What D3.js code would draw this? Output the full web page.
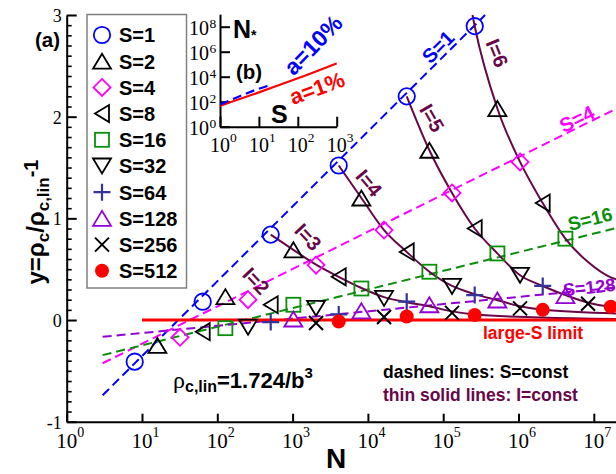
<!DOCTYPE html>
<html>
<head>
<meta charset="utf-8">
<script src="https://cdn.jsdelivr.net/npm/d3@7/dist/d3.min.js"></script>
<style>
html,body{margin:0;padding:0;background:#fff;}
svg{display:block;}
</style>
</head>
<body>
<svg id="chart" width="616" height="474"></svg>
<script>
// ================= DATA =================
const seriesNames = ["S=1","S=2","S=4","S=8","S=16","S=32","S=64","S=128","S=256","S=512"];

const nS1   = [8,64,512,4096,32768,262144];
const yS1   = [-0.41,0.18,0.84,1.52,2.20,2.89];
const nS2   = [16,128,1024,8192,65536,524288];
const yS2   = [-0.25,0.23,0.69,1.20,1.67,2.08];
const nS4   = [32,256,2048,16384,131072,1048576];
const yS4   = [-0.17,0.20,0.54,0.885,1.25,1.555];
const nS8   = [64,512,4096,32768,262144,2097152];
const yS8   = [-0.115,0.15,0.425,0.67,0.90,1.15];
const nS16  = [128,1024,8192,65536,524288,4194304];
const yS16  = [-0.08,0.15,0.31,0.475,0.655,0.80];
const nS32  = [256,2048,16384,131072,1048576];
const yS32  = [-0.07,0.115,0.213,0.33,0.44];
const nS64  = [512,4096,32768,262144,2097152];
const yS64  = [-0.02,0.055,0.18,0.245,0.335];
const nS128 = [1024,8192,65536,524288,4194304];
const yS128 = [0.01,0.09,0.15,0.197,0.24];
const nS256 = [2048,16384,131072,1048576,8388608];
const yS256 = [-0.03,0.03,0.07,0.115,0.16];
const nS512 = [4096,32768,262144,2097152,16777216];
const yS512 = [-0.015,0.035,0.05,0.10,0.13];

// thin solid lines: I = const
const nI3 = [512,1024,2048,4096,8192,16384,32768,65536,131072,262144,2e6,2e7];
const yI3 = [0.84,0.69,0.545,0.425,0.315,0.225,0.175,0.135,0.085,0.055,0.025,0.01];
const nI4 = [4096,8192,16384,32768,65536,131072,262144,524288,1048576,2097152,2e7];
const yI4 = [1.52,1.20,0.885,0.67,0.475,0.335,0.255,0.195,0.135,0.10,0.065];
const nI5 = [32768,65536,131072,262144,524288,1048576,2097152,4194304,8388608,16777216,2e7];
const yI5 = [2.20,1.67,1.25,0.90,0.655,0.44,0.335,0.245,0.17,0.13,0.125];
const nI6 = [245000,262144,524288,1048576,2097152,4194304,8388608,16777216,2e7];
const yI6 = [3.0,2.89,2.08,1.555,1.15,0.80,0.57,0.42,0.40];

// dashed lines: S = const
const nDashS1   = [3,3.6e5];  const yDashS1   = [-0.74,3.0];
const nDashS4   = [3,2e7];    const yDashS4   = [-0.425,2.08];
const nDashS16  = [3,2e7];    const yDashS16  = [-0.345,0.905];
const nDashS128 = [3,2e7];    const yDashS128 = [-0.165,0.32];
// large-S limit
const nLarge = [10,2e7];      const yLarge = [0,0];

// inset (b): N* vs S
const sInsetRed  = [1,10,100,1000];
const nStarRed   = [46,560,7400,117000];
const sInsetBlue = [1,3,8,20];
const nStarBlue  = [60,251,851,2188];

// ticks
const xTickValues = [1,10,100,1e3,1e4,1e5,1e6,1e7];
const xTickExps   = ["0","1","2","3","4","5","6","7"];
const yTickValues = [-1,0,1,2,3];
const yTickLabels = ["-1","0","1","2","3"];
const inXTicks = [1,10,100,1000];     const inXExps = ["0","1","2","3"];
const inYTicks = [1,1e2,1e4,1e6,1e8]; const inYExps = ["0","2","4","6","8"];

// ================= STYLE =================
const SANS = "'Liberation Sans', Arial, Helvetica, sans-serif";
const SERIF = "'Liberation Serif', 'Times New Roman', serif";
const C = {blue:"#0000ff", mag:"#ff00ff", green:"#0a8f0a", navy:"#33339a",
           violet:"#9400d3", red:"#ff0000", maroon:"#670748", black:"#000"};

const series = [
  {n:nS1,  y:yS1,  m:"circle", c:C.blue},
  {n:nS2,  y:yS2,  m:"triUp",  c:C.black},
  {n:nS4,  y:yS4,  m:"diamond",c:C.mag},
  {n:nS8,  y:yS8,  m:"triLeft",c:C.black},
  {n:nS16, y:yS16, m:"square", c:C.green},
  {n:nS32, y:yS32, m:"triDown",c:C.black},
  {n:nS64, y:yS64, m:"plus",   c:C.navy},
  {n:nS128,y:yS128,m:"triUp",  c:C.violet},
  {n:nS256,y:yS256,m:"cross",  c:C.black},
  {n:nS512,y:yS512,m:"dot",    c:C.red}
];

// ================= SCALES =================
const svg = d3.select("#chart");
const x = d3.scaleLog().domain([1,1e8]).range([66.7, 669.1]);
const y = d3.scaleLinear().domain([-1,3]).range([421.7, 15]);

// ================= AXES =================
const gy = svg.append("g").attr("transform","translate(66.7,0)")
  .call(d3.axisLeft(y).tickValues(yTickValues).tickSize(-10).tickSizeOuter(0).tickPadding(5)
        .tickFormat((d,i)=>yTickLabels[i]));
gy.selectAll("path.domain").attr("stroke","#000").attr("stroke-width",2);
gy.selectAll(".tick line").attr("stroke","#000").attr("stroke-width",2);
gy.selectAll(".tick text").attr("font-family",SERIF).attr("font-size",18).attr("fill","#000").attr("dy","0.36em");
const minorVals = d3.range(-10,31).map(v=>v/10).filter(v=>Math.abs(v-Math.round(v))>1e-6);
const gym = svg.append("g").attr("transform","translate(66.7,0)")
  .call(d3.axisLeft(y).tickValues(minorVals).tickSize(-5).tickSizeOuter(0).tickFormat(""));
gym.select("path.domain").remove();
gym.selectAll(".tick line").attr("stroke","#000").attr("stroke-width",1.6);

const gx = svg.append("g").attr("transform","translate(0,421.7)")
  .call(d3.axisBottom(x).tickValues(xTickValues).tickSize(-8).tickSizeOuter(0).tickFormat(""));
gx.selectAll("path.domain").attr("stroke","#000").attr("stroke-width",2);
gx.selectAll(".tick line").attr("stroke","#000").attr("stroke-width",2);
xTickValues.forEach((v,i)=>{
  svg.append("text").attr("x",x(v)).attr("y",447.5).attr("text-anchor","middle")
    .attr("font-family",SERIF).attr("font-size",21).text("10");
  svg.append("text").attr("x",x(v)+10.5).attr("y",437).attr("text-anchor","start")
    .attr("font-family",SERIF).attr("font-size",14).text(xTickExps[i]);
});

// ================= LINES =================
const lineGen = d3.line().x(d=>x(d[0])).y(d=>y(d[1]));
const curveGen = d3.line().x(d=>x(d[0])).y(d=>y(d[1])).curve(d3.curveMonotoneX);
const zip = (a,b)=>a.map((v,i)=>[v,b[i]]);

const dashed = [
  {n:nDashS1,y:yDashS1,c:C.blue},
  {n:nDashS4,y:yDashS4,c:C.mag},
  {n:nDashS16,y:yDashS16,c:C.green},
  {n:nDashS128,y:yDashS128,c:C.violet}
];
dashed.forEach(d=>{
  svg.append("path").attr("d",lineGen(zip(d.n,d.y))).attr("fill","none")
    .attr("stroke",d.c).attr("stroke-width",2).attr("stroke-dasharray","9,5");
});

[[nI3,yI3],[nI4,yI4],[nI5,yI5],[nI6,yI6]].forEach(([n,v])=>{
  svg.append("path").attr("d",curveGen(zip(n,v))).attr("fill","none")
    .attr("stroke",C.maroon).attr("stroke-width",2);
});

svg.append("path").attr("d",lineGen(zip(nLarge,yLarge))).attr("fill","none")
  .attr("stroke",C.red).attr("stroke-width",3);

// ================= MARKERS =================
function marker(g, type, cx, cy, color){
  const sw = 1.8;
  switch(type){
    case "circle":
      g.append("circle").attr("cx",cx).attr("cy",cy).attr("r",8.2).attr("fill","none").attr("stroke",color).attr("stroke-width",sw); break;
    case "dot":
      g.append("circle").attr("cx",cx).attr("cy",cy).attr("r",7).attr("fill",color); break;
    case "triUp":
      g.append("path").attr("d",`M${cx-9},${cy+7.5}L${cx},${cy-7.5}L${cx+9},${cy+7.5}Z`).attr("fill","none").attr("stroke",color).attr("stroke-width",sw); break;
    case "triDown":
      g.append("path").attr("d",`M${cx-9},${cy-7.5}L${cx+9},${cy-7.5}L${cx},${cy+7.5}Z`).attr("fill","none").attr("stroke",color).attr("stroke-width",sw); break;
    case "triLeft":
      g.append("path").attr("d",`M${cx-7},${cy}L${cx+7},${cy-8.5}L${cx+7},${cy+8.5}Z`).attr("fill","none").attr("stroke",color).attr("stroke-width",sw); break;
    case "diamond":
      g.append("path").attr("d",`M${cx},${cy-8.5}L${cx+8.5},${cy}L${cx},${cy+8.5}L${cx-8.5},${cy}Z`).attr("fill","none").attr("stroke",color).attr("stroke-width",sw); break;
    case "square":
      g.append("rect").attr("x",cx-7).attr("y",cy-7).attr("width",14).attr("height",14).attr("fill","none").attr("stroke",color).attr("stroke-width",sw); break;
    case "plus":
      g.append("path").attr("d",`M${cx-8.5},${cy}H${cx+8.5}M${cx},${cy-8.5}V${cy+8.5}`).attr("stroke",color).attr("stroke-width",2.2); break;
    case "cross":
      g.append("path").attr("d",`M${cx-7},${cy-7}L${cx+7},${cy+7}M${cx-7},${cy+7}L${cx+7},${cy-7}`).attr("stroke",color).attr("stroke-width",2); break;
  }
}
const gm = svg.append("g");
series.forEach(s=>{
  s.n.forEach((n,i)=>marker(gm, s.m, x(n), y(s.y[i]), s.c));
});

// ================= LEGEND =================
const lg = svg.append("g");
lg.append("rect").attr("x",87).attr("y",14.5).attr("width",99.5).attr("height",273.5)
  .attr("fill","#fff").attr("stroke","#808080").attr("stroke-width",1.5);
series.forEach((s,i)=>{
  const cy = 35 + i*26.2;
  marker(lg, s.m, 102, cy, s.c);
  lg.append("text").attr("x",119).attr("y",cy+7.3).attr("font-family",SANS).attr("font-weight","bold")
    .attr("font-size",20).text(seriesNames[i]);
});

// ================= TEXT LABELS =================
function rotLabel(txt, cx, cy, ang, color, size, anchor){
  svg.append("text").attr("transform",`translate(${cx},${cy}) rotate(${ang})`)
    .attr("text-anchor",anchor||"middle").attr("dy","0.35em")
    .attr("font-family",SANS).attr("font-weight","bold").attr("font-size",size||20)
    .attr("fill",color).text(txt);
}
rotLabel("S=1",438,47,-45,C.blue,20);
rotLabel("S=4",577,119,-26,C.mag,20);
rotLabel("S=16",590,219,-14,C.green,19);
rotLabel("S=128",563,290,-6,C.violet,18,"start");
rotLabel("I=6",497,53,68,C.maroon,20);
rotLabel("I=5",432,118,60,C.maroon,20);
rotLabel("I=4",369,183,50,C.maroon,20);
rotLabel("I=3",308,237,47,C.maroon,20);
rotLabel("I=2",256,281,47,C.maroon,20);

svg.append("text").attr("x",483).attr("y",338.5).attr("font-family",SANS).attr("font-weight","bold")
  .attr("font-size",17.5).attr("fill",C.red).text("large-S limit");
svg.append("text").attr("x",383).attr("y",378).attr("font-family",SANS).attr("font-weight","bold")
  .attr("font-size",17.5).attr("fill","#000").text("dashed lines: S=const");
svg.append("text").attr("x",383).attr("y",400.5).attr("font-family",SANS).attr("font-weight","bold")
  .attr("font-size",17.5).attr("fill",C.maroon).text("thin solid lines: I=const");

const rho = svg.append("text").attr("x",173).attr("y",388).attr("font-family",SANS).attr("font-weight","bold").attr("font-size",22);
rho.append("tspan").attr("font-family",SERIF).attr("font-weight","normal").attr("font-size",24).text("ρ");
rho.append("tspan").attr("font-size",16).attr("dy",4).text("c,lin");
rho.append("tspan").attr("dy",-4).text("=1.724/b");
rho.append("tspan").attr("font-size",15).attr("dy",-10).text("3");

svg.append("text").attr("x",35).attr("y",47).attr("font-family",SANS).attr("font-weight","bold")
  .attr("font-size",20.5).text("(a)");

const yl = svg.append("text").attr("transform","translate(44,222) rotate(-90)").attr("text-anchor","middle")
  .attr("font-family",SANS).attr("font-weight","bold").attr("font-size",24);
yl.append("tspan").text("y=ρ");
yl.append("tspan").attr("font-size",17).attr("dy",5).text("c");
yl.append("tspan").attr("dy",-5).text("/ρ");
yl.append("tspan").attr("font-size",17).attr("dy",5).text("c,lin");
yl.append("tspan").attr("font-size",20).attr("dy",-11).text("-1");

svg.append("text").attr("x",336).attr("y",468).attr("text-anchor","middle").attr("font-family",SANS)
  .attr("font-weight","bold").attr("font-size",28).text("N");

// ================= INSET (b) =================
const ix = d3.scaleLog().domain([1,1000]).range([220,336.7]);
const iy = d3.scaleLog().domain([1,1e9]).range([126.7,14.2]);
const gi = svg.append("g");
const giy = gi.append("g").attr("transform","translate(220,0)")
  .call(d3.axisLeft(iy).tickValues(inYTicks).tickSize(-10).tickSizeOuter(0).tickFormat(""));
giy.selectAll("path.domain").attr("stroke","#000").attr("stroke-width",2);
giy.selectAll(".tick line").attr("stroke","#000").attr("stroke-width",2);
const gix = gi.append("g").attr("transform","translate(0,126.7)")
  .call(d3.axisBottom(ix).tickValues(inXTicks).tickSize(-10).tickSizeOuter(0).tickFormat(""));
gix.selectAll("path.domain").attr("stroke","#000").attr("stroke-width",2);
gix.selectAll(".tick line").attr("stroke","#000").attr("stroke-width",2);
inXTicks.forEach((v,i)=>{
  gi.append("text").attr("x",ix(v)).attr("y",152).attr("text-anchor","middle")
    .attr("font-family",SERIF).attr("font-size",20).text("10");
  gi.append("text").attr("x",ix(v)+10).attr("y",141.5).attr("font-family",SERIF).attr("font-size",13.5).text(inXExps[i]);
});
inYTicks.forEach((v,i)=>{
  gi.append("text").attr("x",209).attr("y",iy(v)+8).attr("text-anchor","end")
    .attr("font-family",SERIF).attr("font-size",20).text("10");
  gi.append("text").attr("x",209.5).attr("y",iy(v)+1).attr("font-family",SERIF).attr("font-size",13.5).text(inYExps[i]);
});
gi.append("path").attr("d",curveGen.x(d=>ix(d[0])).y(d=>iy(d[1]))(zip(sInsetRed,nStarRed)))
  .attr("fill","none").attr("stroke",C.red).attr("stroke-width",2.2);
gi.append("path").attr("d",curveGen.x(d=>ix(d[0])).y(d=>iy(d[1]))(zip(sInsetBlue,nStarBlue)))
  .attr("fill","none").attr("stroke",C.blue).attr("stroke-width",2.2).attr("stroke-dasharray","9,5");

const ns = gi.append("text").attr("x",233).attr("y",38).attr("font-family",SANS).attr("font-weight","bold").attr("font-size",25);
ns.append("tspan").text("N");
ns.append("tspan").attr("font-size",14).attr("dy",2).text("*");
gi.append("text").attr("x",236).attr("y",79).attr("font-family",SANS).attr("font-weight","bold").attr("font-size",20.5).text("(b)");
gi.append("text").attr("x",271).attr("y",123).attr("font-family",SANS).attr("font-weight","bold").attr("font-size",25).text("S");
rotLabel("a=10%",313,45,-46,C.blue,23);
rotLabel("a=1%",317,88,-20,C.red,22);
</script>
</body>
</html>
